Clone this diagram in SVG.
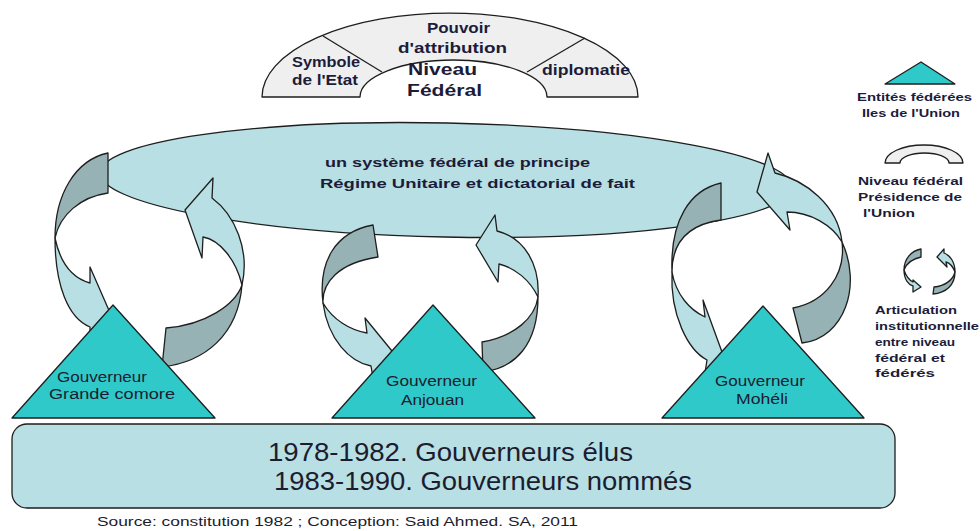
<svg xmlns="http://www.w3.org/2000/svg" width="980" height="531" viewBox="0 0 980 531">
<style>
.ln{stroke:#1e1e1e;stroke-width:1.3;stroke-linejoin:round}
.lt{fill:#b8dfe3}
.dk{fill:#97b2b4}
.tri{fill:#30c9c9}
.arch{fill:#efefef}
.b{font-family:"Liberation Sans",Arial,sans-serif;font-weight:bold;fill:#1c1c3a}
.r{font-family:"Liberation Sans",Arial,sans-serif;fill:#1c1c30}
</style>
<rect width="980" height="531" fill="#ffffff"/>

<g id="periodes">
<rect class="ln lt" x="12" y="424" width="883" height="84" rx="15" ry="15"/>
<text class="r" x="268" y="461" font-size="25" textLength="365" lengthAdjust="spacingAndGlyphs">1978-1982. Gouverneurs élus</text>
<text class="r" x="274" y="490" font-size="25" textLength="418" lengthAdjust="spacingAndGlyphs">1983-1990. Gouverneurs nommés</text>
</g>

<g id="niveau-federal">
<path class="ln arch" d="M262,97 A188,84 0 0 1 638,97 L547,97 A93.5,37 0 0 0 360,97 Z"/>
<line class="ln" x1="323" y1="36" x2="382" y2="72"/>
<line class="ln" x1="585" y1="38" x2="527" y2="72"/>
<text class="b" x="427" y="33" font-size="15" textLength="63" lengthAdjust="spacingAndGlyphs">Pouvoir</text>
<text class="b" x="398" y="53" font-size="15" textLength="109" lengthAdjust="spacingAndGlyphs">d'attribution</text>
<text class="b" x="292" y="67" font-size="14" textLength="68" lengthAdjust="spacingAndGlyphs">Symbole</text>
<text class="b" x="292" y="85" font-size="14" textLength="66" lengthAdjust="spacingAndGlyphs">de l'Etat</text>
<text class="b" x="542" y="75" font-size="14" textLength="88" lengthAdjust="spacingAndGlyphs">diplomatie</text>
<text class="b" x="408" y="75" font-size="17" fill="#141448" textLength="69" lengthAdjust="spacingAndGlyphs">Niveau</text>
<text class="b" x="407" y="96" font-size="17" fill="#141448" textLength="75" lengthAdjust="spacingAndGlyphs">Fédéral</text>
</g>

<g id="systeme">
<ellipse class="ln lt" cx="446" cy="180" rx="346" ry="57" transform="rotate(1.2 446 180)"/>
<text class="b" x="325" y="167" font-size="13" textLength="265" lengthAdjust="spacingAndGlyphs">un système  fédéral  de principe</text>
<text class="b" x="320" y="188" font-size="13" textLength="315" lengthAdjust="spacingAndGlyphs">Régime Unitaire et dictatorial  de fait</text>
</g>

<g id="connectors">
<path class="ln dk" d="M108,153 C75,160 55,195 55,238 C60,215 80,197 108,193 Z"/>
<path class="ln lt" d="M55,238 C55,285 68,318 90,327 L90,343 L111,315 L90,267 L90,283 C72,278 60,262 55,238 Z"/>
<path class="ln dk" d="M162,367 C205,362 238,335 242,285 C235,305 205,325 166,328 Z"/>
<path class="ln lt" d="M242,285 C250,250 235,215 212,198 L213,178 L185,210 L202,258 L203,237 C220,240 236,260 242,285 Z"/>

<path class="ln dk" d="M373,225 C335,232 318,262 323,303 C322,283 338,263 378,257 Z"/>
<path class="ln lt" d="M323,303 C328,340 350,362 371,366 L373,378 L392,351 L365,318 L367,333 C350,330 333,320 323,303 Z"/>
<path class="ln dk" d="M483,372 C515,368 538,345 538,297 C535,318 515,336 482,342 Z"/>
<path class="ln lt" d="M538,297 C540,265 525,238 497,231 L495,215 L476,245 L498,282 L499,264 C515,268 530,280 538,297 Z"/>

<path class="ln dk" d="M721,183 C690,190 670,220 672,272 C672,245 685,225 721,220 Z"/>
<path class="ln lt" d="M672,272 C670,315 688,350 707,360 L705,373 L722,352 L703,300 L705,317 C690,310 676,295 672,272 Z"/>
<path class="ln dk" d="M802,343 C845,338 862,285 842,242 C846,275 825,302 793,308 Z"/>
<path class="ln lt" d="M842,242 C838,205 805,180 775,173 L768,153 L757,192 L790,230 L787,212 C810,212 832,225 842,242 Z"/>
</g>

<g id="gouverneur-grande-comore">
<polygon class="ln tri" points="12,418 113,305 215,418"/>
<text class="r" x="57" y="382" font-size="14" textLength="90" lengthAdjust="spacingAndGlyphs">Gouverneur</text>
<text class="r" x="49" y="399" font-size="14" textLength="126" lengthAdjust="spacingAndGlyphs">Grande  comore</text>
</g>
<g id="gouverneur-anjouan">
<polygon class="ln tri" points="332,418 433,305 535,418"/>
<text class="r" x="386" y="386" font-size="14" textLength="91" lengthAdjust="spacingAndGlyphs">Gouverneur</text>
<text class="r" x="401" y="405" font-size="14" textLength="63" lengthAdjust="spacingAndGlyphs">Anjouan</text>
</g>
<g id="gouverneur-moheli">
<polygon class="ln tri" points="662,418 763,306 864,418"/>
<text class="r" x="715" y="386" font-size="14" textLength="90" lengthAdjust="spacingAndGlyphs">Gouverneur</text>
<text class="r" x="736" y="404" font-size="14" textLength="52" lengthAdjust="spacingAndGlyphs">Mohéli</text>
</g>

<g id="legende">
<polygon class="ln tri" points="885,84 921,62 955,84"/>
<text class="b" x="857" y="101" font-size="11" textLength="115" lengthAdjust="spacingAndGlyphs">Entités fédérées</text>
<text class="b" x="862" y="117" font-size="11" textLength="98" lengthAdjust="spacingAndGlyphs">Iles de l'Union</text>
<path class="ln arch" d="M885,163 A39,18 0 0 1 963,163 L949,163 A24.5,10 0 0 0 900,163 Z"/>
<text class="b" x="858" y="185" font-size="11" textLength="105" lengthAdjust="spacingAndGlyphs">Niveau fédéral</text>
<text class="b" x="858" y="201" font-size="11" textLength="104" lengthAdjust="spacingAndGlyphs">Présidence de</text>
<text class="b" x="863" y="217" font-size="11" textLength="52" lengthAdjust="spacingAndGlyphs">l'Union</text>
<path class="ln dk" d="M921,249 C911,251 904,259 904,270 C906,264 912,259 921,257 Z"/>
<path class="ln lt" d="M904,270 C904,280 909,285 913,286 L913,292 L921,287 L913,280 L913,282 C909,280 906,276 904,270 Z"/>
<path class="ln dk" d="M933,294 C946,293 955,285 955,272 C953,280 945,286 934,287 Z"/>
<path class="ln lt" d="M955,272 C955,262 950,255 944,253 L944,249 L937,257 L947,267 L946,262 C950,263 953,267 955,272 Z"/>
<text class="b" x="875" y="314" font-size="11" textLength="82" lengthAdjust="spacingAndGlyphs">Articulation</text>
<text class="b" x="875" y="330" font-size="11" textLength="104" lengthAdjust="spacingAndGlyphs">institutionnelle</text>
<text class="b" x="875" y="346" font-size="11" textLength="80" lengthAdjust="spacingAndGlyphs">entre niveau</text>
<text class="b" x="875" y="362" font-size="11" textLength="70" lengthAdjust="spacingAndGlyphs">fédéral et</text>
<text class="b" x="875" y="377" font-size="11" textLength="60" lengthAdjust="spacingAndGlyphs">fédérés</text>
</g>

<text class="r" x="97" y="526" font-size="12" fill="#222" textLength="481" lengthAdjust="spacingAndGlyphs">Source:  constitution  1982  ; Conception:  Said Ahmed.  SA, 2011</text>
</svg>
